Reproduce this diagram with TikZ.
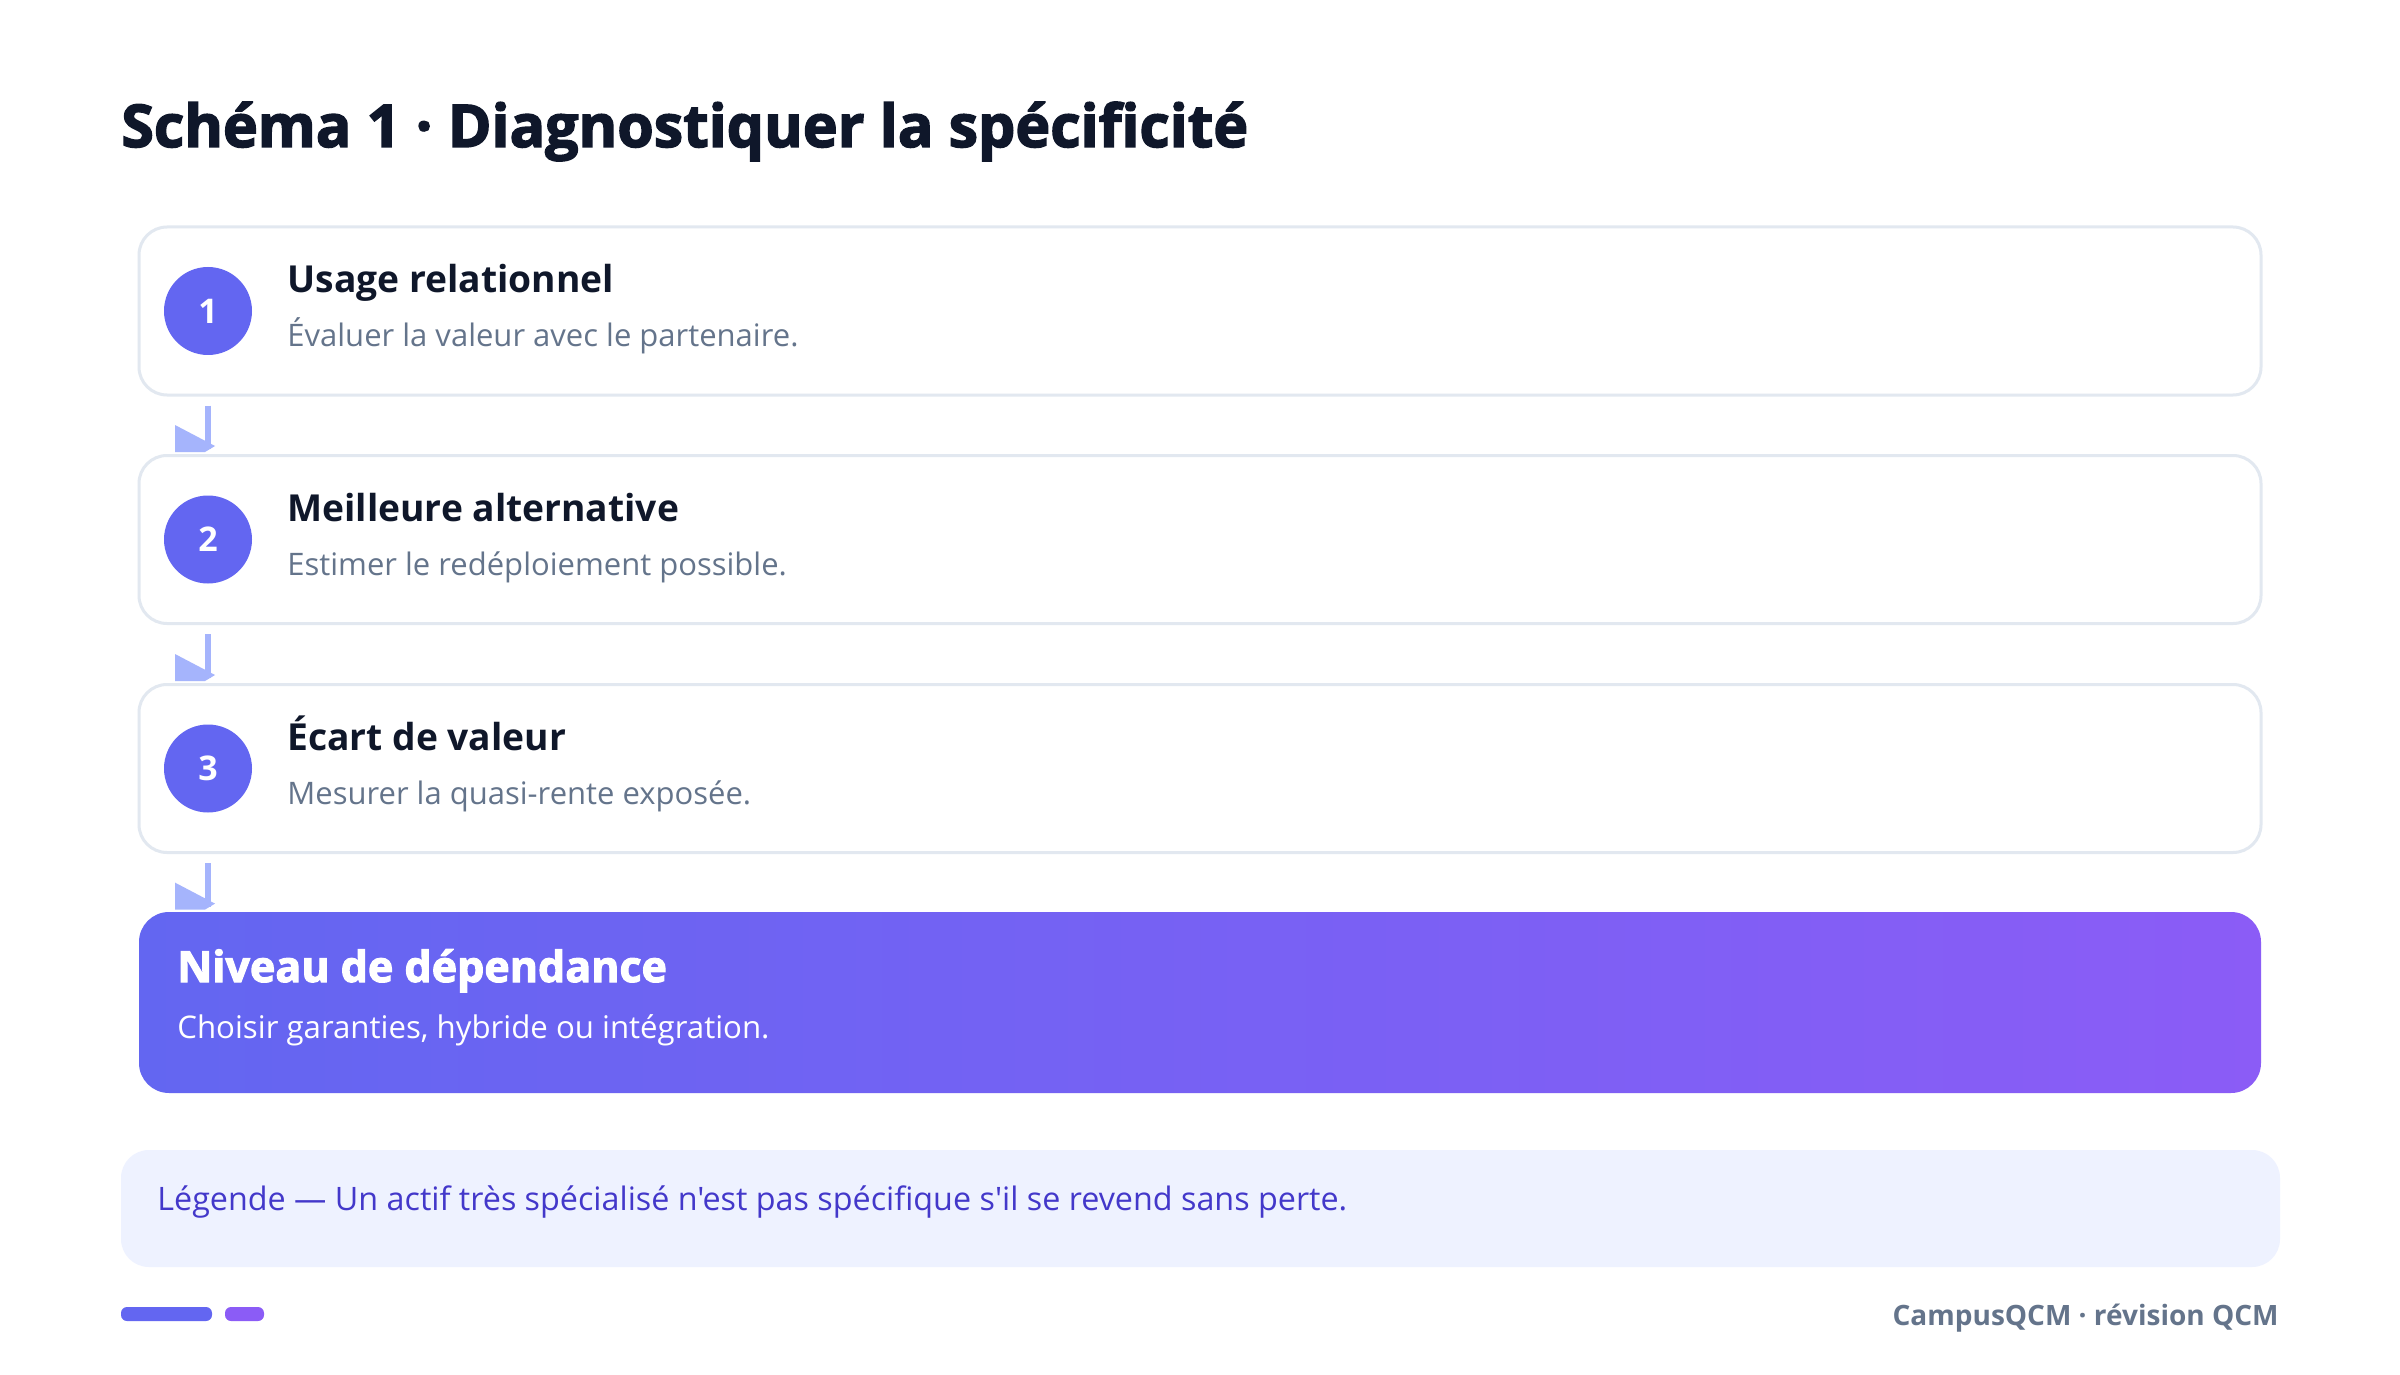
\documentclass[tikz,border=0pt]{standalone}
\usepackage{fontspec}
\setmainfont{Open Sans}[Ligatures=TeXOff]
\newfontfamily\heavyfont{Open Sans}[Ligatures=TeXOff, BoldFeatures={FakeBold=2.5}]
\usetikzlibrary{calc}
\definecolor{ink}{HTML}{0F172A}
\definecolor{muted}{HTML}{64748B}
\definecolor{indigo}{HTML}{6366F1}
\definecolor{violet}{HTML}{8B5CF6}
\definecolor{border}{HTML}{E2E8F0}
\definecolor{arrowc}{HTML}{A5B4FC}
\definecolor{legbg}{HTML}{EEF2FF}
\definecolor{legtx}{HTML}{4338CA}
\tikzset{
  stepbox/.style={draw=border, line width=1.5pt, fill=white, rounded corners=14pt,
    minimum width=1061pt, minimum height=84pt, inner sep=0pt},
  numdot/.style={circle, fill=indigo, minimum size=44pt, inner sep=0pt,
    text=white, font=\bfseries\fontsize{17}{17}\selectfont},
  steptitle/.style={anchor=base west, inner sep=0pt, text=ink, font=\bfseries\fontsize{18.6}{21}\selectfont},
  stepsub/.style={anchor=base west, inner sep=0pt, text=muted, font=\fontsize{15.5}{18}\selectfont},
  arrowline/.style={draw=arrowc, line width=3pt},
  arrowhead/.style={fill=arrowc},
}
\begin{document}
\begin{tikzpicture}[x=0.5pt,y=-0.5pt]
\useasboundingbox (0,0) rectangle (2400,1375);
\fill[white] (0,0) rectangle (2400,1375);

\node[anchor=base west, inner sep=0pt, text=ink, font=\heavyfont\bfseries\fontsize{29.5}{34}\selectfont] (title) at (121,147) {Schéma 1 · Diagnostiquer la spécificité};

% step boxes
\node[stepbox] (b1) at (1200,311) {};
\node[stepbox] (b2) at (1200,539.5) {};
\node[stepbox] (b3) at (1200,768.5) {};
\node[rounded corners=15pt, left color=indigo, right color=violet, minimum width=1061pt, minimum height=90.5pt, inner sep=0pt] (b4) at (1200,1002.5) {};

\node[numdot] (c1) at (208,311) {1};
\node[numdot] (c2) at (208,539.5) {2};
\node[numdot] (c3) at (208,768.5) {3};

\node[steptitle] (t1) at (287,293) {Usage relationnel};
\node[stepsub] (s1) at (287,347) {Évaluer la valeur avec le partenaire.};
\node[steptitle] (t2) at (287,521.5) {Meilleure alternative};
\node[stepsub] (s2) at (287,575.5) {Estimer le redéploiement possible.};
\node[steptitle] (t3) at (287,750.5) {Écart de valeur};
\node[stepsub] (s3) at (287,804.5) {Mesurer la quasi-rente exposée.};

\node[anchor=base west, inner sep=0pt, text=white, font=\heavyfont\bfseries\fontsize{21.5}{25}\selectfont] (t4) at (177,982) {Niveau de dépendance};
\node[anchor=base west, inner sep=0pt, text=white, font=\fontsize{15.6}{18}\selectfont] (s4) at (177,1038) {Choisir garanties, hybride ou intégration.};

% connectors
\foreach \a/\b in {b1/b2, b2/b3, b3/b4}{
  \coordinate (e) at (\b.north -| c1);
  \draw[arrowline] ([yshift=-4.5pt]\a.south -| c1) -- ([yshift=2.5pt]e);
  \fill[arrowhead] (e) ++(-33,-29) -- ++(40,21) -- ++(-10,6) -- ++(-30,0) -- cycle;
}

% legend
\node[fill=legbg, rounded corners=14pt, minimum width=1079.5pt, minimum height=58.5pt, inner sep=0pt] (leg) at (1200.5,1208.5) {};
\node[anchor=base west, inner sep=0pt, text=legtx, font=\fontsize{16.15}{19}\selectfont] (legt) at (157,1210) {Légende — Un actif très spécialisé n'est pas spécifique s'il se revend sans perte.};

% footer
\fill[indigo, rounded corners=3pt] (121,1307) rectangle (212,1321);
\fill[violet, rounded corners=3pt] (225,1307) rectangle (264,1321);
\node[anchor=base east, inner sep=0pt, text=muted, font=\bfseries\fontsize{14}{17}\selectfont] (foot) at (2279,1325) {CampusQCM · révision QCM};
\end{tikzpicture}
\end{document}
